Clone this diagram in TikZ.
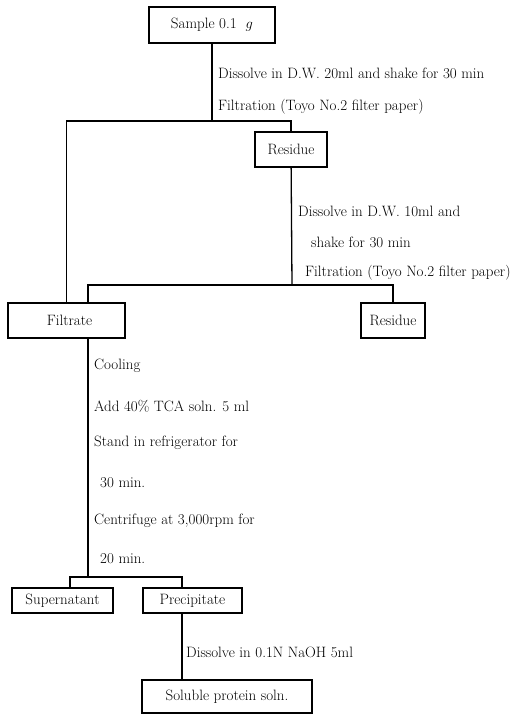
\documentclass[tikz,border=0pt]{standalone}
\usepackage{fontspec}
\usepackage{tikz}
\usetikzlibrary{positioning,calc}

\begin{document}
\begin{tikzpicture}[x=1pt, y=-1pt,
  txtfont/.style={font=\fontsize{15}{17}\selectfont\addfontfeatures{LetterSpace=9}},
  bx/.style={rectangle, draw, line width=1.3pt, inner sep=0pt, txtfont},
  ln/.style={line width=1.3pt},
  lbl/.style={anchor=west, inner sep=0pt, txtfont}
]
  \useasboundingbox (0,0) rectangle (532,715);

  % boxes
  \node[bx, minimum width=126, minimum height=36] (sample)   at (212,25)    {Sample 0.1~~$g$};
  \node[bx, minimum width=72,  minimum height=35] (res1)     at (291,149.5) {Residue};
  \node[bx, minimum width=117, minimum height=35] (filtrate) at (66.5,320.5) {\hspace{6pt}Filtrate};
  \node[bx, minimum width=64,  minimum height=35] (res2)     at (393,320.5) {Residue};
  \node[bx, minimum width=101, minimum height=25] (super)    at (62.5,600.5) {Supernatant};
  \node[bx, minimum width=99,  minimum height=25] (precip)   at (192.5,600.5) {Precipitate};
  \node[bx, minimum width=170, minimum height=33] (soluble)  at (227,696.5) {Soluble protein soln.};

  % junctions
  \coordinate (j1) at (212,121);
  \coordinate (j2) at (292,285);
  \coordinate (j3) at (88,577);
  \coordinate (sd) at (70,0);
  \coordinate (pd) at (182,0);

  % connectors
  \draw[ln] (sample) -- (j1);
  \draw[ln] (filtrate.north) |- (j1) -| (res1.north);
  \draw[ln] (res1) -- (j2);
  \draw[ln] (filtrate.north -| j3) |- (j2) -| (res2.north);
  \draw[ln] (filtrate.south -| j3) -- (j3);
  \draw[ln] (super.north -| sd) |- (j3) -| (precip.north -| pd);
  \draw[ln] (precip.south -| pd) -- (soluble.north -| pd);

  % labels
  \node[lbl] (d1) at (218,73)  {Dissolve in D.W. 20ml and shake for 30 min};
  \node[lbl] (f1) at (218,107) {Filtration (Toyo No.2 filter paper)};
  \node[lbl] (d2) at (298,211) {Dissolve in D.W. 10ml and};
  \node[lbl] (d3) at (311,242) {shake for 30 min};
  \node[lbl] (f2) at (305,273) {Filtration (Toyo No.2 filter paper)};
  \node[lbl] (c1) at (94,366)  {Cooling};
  \node[lbl] (c2) at (94,406)  {Add 40\% TCA soln. 5 ml};
  \node[lbl] (c3) at (94,443)  {Stand in refrigerator for};
  \node[lbl] (c4) at (100,483) {30 min.};
  \node[lbl] (c5) at (94,521)  {Centrifuge at 3,000rpm for};
  \node[lbl] (c6) at (100,559) {20 min.};
  \node[lbl] (n1) at (186,652) {Dissolve in 0.1N NaOH 5ml};
\end{tikzpicture}
\end{document}
